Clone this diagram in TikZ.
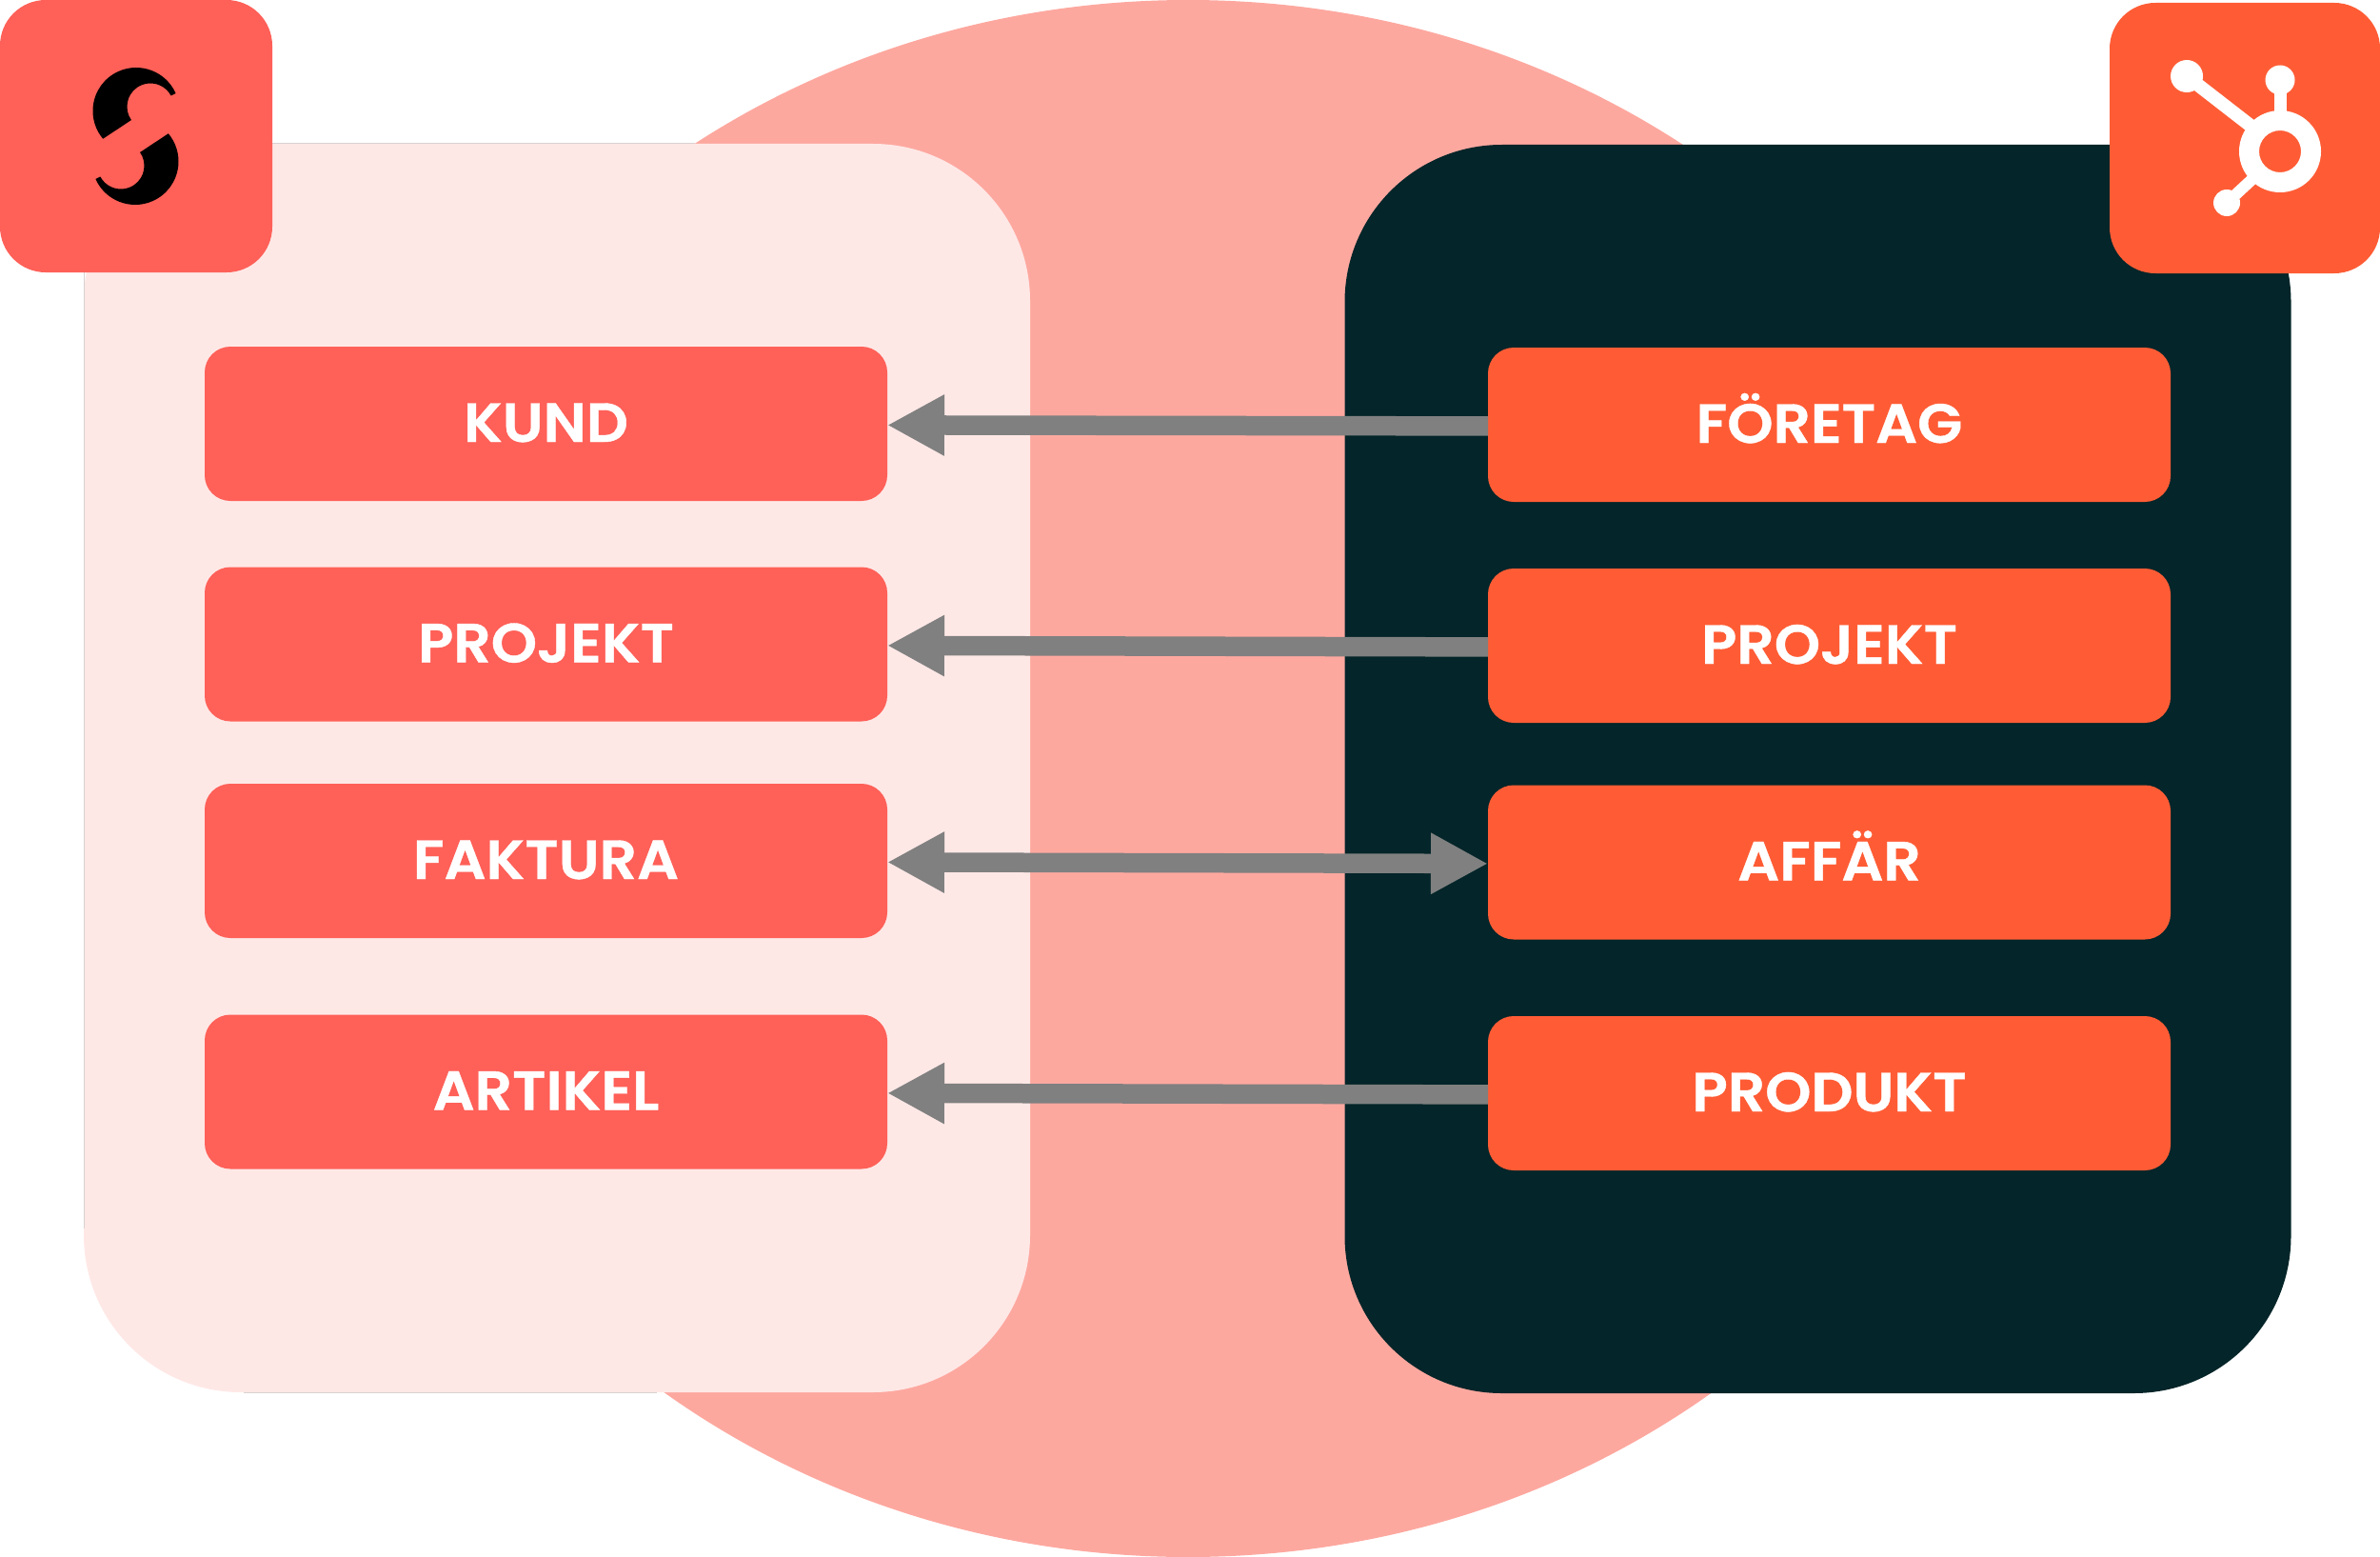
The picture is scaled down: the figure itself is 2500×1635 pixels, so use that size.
\documentclass[tikz,border=0pt]{standalone}
\usepackage{fontspec}
\usetikzlibrary{arrows.meta,shapes.geometric}
\setmainfont{Poppins}
\newfontfamily\labelfont[FakeStretch=1.06,FakeBold=0.7,UprightFont=* SemiBold]{Poppins}
\definecolor{circlepink}{HTML}{FDA89F}
\definecolor{lightpanel}{HTML}{FEE8E6}
\definecolor{darkpanel}{HTML}{042529}
\definecolor{coral}{HTML}{FF6058}
\definecolor{hsorange}{HTML}{FF5C35}
\definecolor{arrowgray}{HTML}{808080}
\definecolor{hairline}{HTML}{DAD2D1}
\tikzset{
  panel/.style={rounded corners=165pt,inner sep=0pt,outer sep=0pt,minimum width=994pt,minimum height=1311pt},
  logobox/.style={rounded corners=48pt,inner sep=0pt,outer sep=0pt},
  entity/.style={rounded corners=27pt,inner sep=0pt,outer sep=0pt,minimum width=717pt,minimum height=162pt,
    text=white,font=\labelfont\fontsize{58}{60}\selectfont,text height=41pt,text depth=3pt},
  sintity/.style={entity,fill=coral},
  hintity/.style={entity,fill=hsorange},
  link/.style={draw=arrowgray,line width=20.5pt},
  onetip/.style={link,-{Triangle[length=60pt,width=60pt]}},
  twotip/.style={link,{Triangle[length=60pt,width=60pt]}-{Triangle[length=60pt,width=60pt]}},
  edgeline/.style={draw=hairline,line width=1pt},
}
\begin{document}
\begin{tikzpicture}[x=1pt,y=-1pt]
\useasboundingbox (0,0) rectangle (2500,1635);
\fill[circlepink] (1248,817.5) ellipse [x radius=895pt,y radius=817.5pt];
\node[panel,fill=lightpanel] (sp) at (585,806.5) {};
\draw[edgeline] (88,286) -- (88,1290);
\draw[edgeline] (286,151) -- (730,151);
\draw[edgeline] (256,1462) -- (690,1462);
\node[panel,fill=darkpanel] (hp) at (1909.5,807.5) {};
\node[logobox,fill=coral,minimum width=286pt,minimum height=286pt] (sl) at (143,143) {};
\node[logobox,fill=hsorange,minimum width=284pt,minimum height=284pt] (hl) at (2358,145) {};
% logo S
\fill[black] ([shift={(143,116.5)}]24:45.5pt) arc[start angle=24,end angle=220,radius=45.5pt]
  -- ([shift={(158,112)}]215:24.5pt) arc[start angle=215,end angle=28,radius=24.5pt] -- cycle;
\fill[black] ([shift={(142,169.5)}]204:45.5pt) arc[start angle=204,end angle=400,radius=45.5pt]
  -- ([shift={(127,174)}]35:24.5pt) arc[start angle=395,end angle=208,radius=24.5pt] -- cycle;
% logo hub
\fill[white,even odd rule] (2395,159) circle[radius=43pt] (2395,159) circle[radius=22pt];
\fill[white] (2297,80) circle[radius=17pt] (2395,84) circle[radius=15.5pt] (2339,213) circle[radius=14pt];
\draw[white,line width=14pt] (2297,80) -- (2364,132);
\draw[white,line width=13pt] (2395,84) -- (2395,120);
\draw[white,line width=12pt] (2339,213) -- (2366,188);
% entities
\node[sintity] (kund) at (573.5,445) {KUND};
\node[sintity] (sproj) at (573.5,676.5) {PROJEKT};
\node[sintity] (fakt) at (573.5,904) {FAKTURA};
\node[sintity] (art) at (573.5,1146.5) {ARTIKEL};
\node[hintity] (fore) at (1921.5,446) {FÖRETAG};
\node[hintity] (hproj) at (1921.5,678) {PROJEKT};
\node[hintity] (aff) at (1921.5,905.5) {AFFÄR};
\node[hintity] (prod) at (1921.5,1148) {PRODUKT};
% connectors
\draw[onetip] ([yshift=-1.4pt]fore.west) -- ([yshift=-1.4pt]kund.east);
\draw[onetip] ([yshift=-1.4pt]hproj.west) -- ([yshift=-1.4pt]sproj.east);
\draw[twotip] ([yshift=-1.4pt]fakt.east) -- ([yshift=-1.4pt]aff.west);
\draw[onetip] ([yshift=-1.4pt]prod.west) -- ([yshift=-1.4pt]art.east);
\end{tikzpicture}
\end{document}
